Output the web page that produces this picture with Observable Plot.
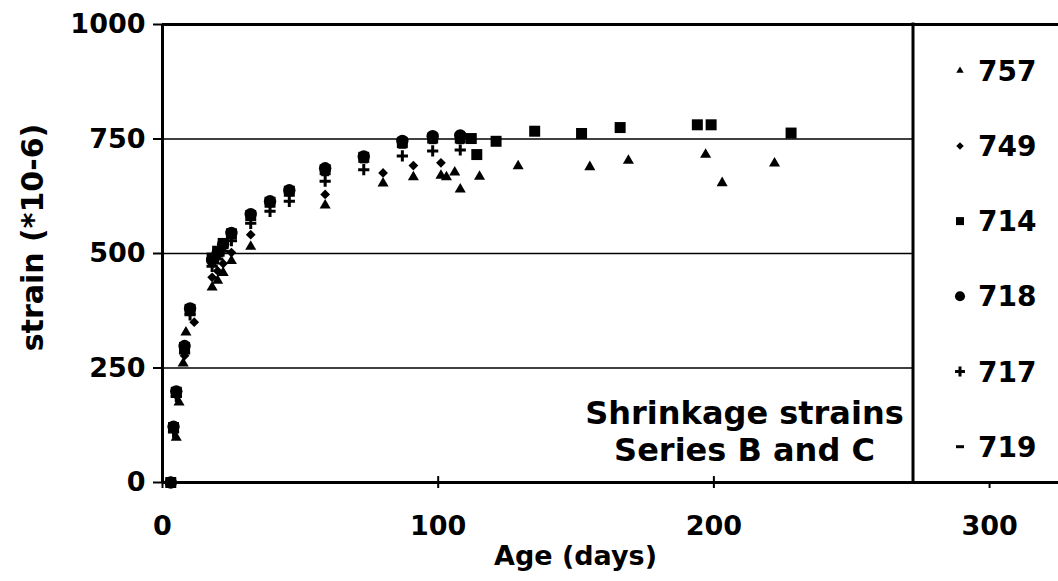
<!DOCTYPE html>
<html>
<head>
<meta charset="utf-8">
<script src="https://cdn.jsdelivr.net/npm/d3@7"></script>
<script src="https://cdn.jsdelivr.net/npm/@observablehq/plot@0.6"></script>
<style>
  body { margin: 0; background: #fff; }
  #chart svg { display: block; }
</style>
</head>
<body>
<div id="chart"></div>
<script>
// ---- Data ----
const seriesNames = ["757", "749", "714", "718", "717", "719"];

const age757    = [3, 5, 6, 7.5, 8.5, 18, 20, 22, 25, 32, 59, 80, 91, 101, 103, 106, 108, 115, 129, 155, 169, 197, 203, 222];
const strain757 = [0, 98, 175, 260, 328, 426, 441, 458, 484, 515, 605, 653, 667, 670, 667, 677, 640, 668, 691, 689, 703, 716, 654, 697];

const age749    = [3, 4, 5, 8, 11.5, 18, 20, 22, 25, 32, 59, 80, 91, 101];
const strain749 = [0, 115, 190, 277, 350, 448, 462, 478, 502, 541, 629, 676, 692, 698];

const age714    = [3, 4, 5, 8, 10, 18, 20, 22, 25, 32, 39, 46, 59, 73, 87, 98, 108, 112, 114, 121, 135, 152, 166, 194, 199, 228];
const strain714 = [0, 120, 197, 295, 378, 490, 505, 522, 543, 583, 612, 636, 683, 710, 742, 752, 752, 751, 716, 745, 767, 762, 775, 781, 781, 763];

const age718    = [3, 4, 5, 8, 10, 18, 20, 22, 25, 32, 39, 46, 59, 73, 87, 98, 108];
const strain718 = [0, 122, 199, 298, 380, 486, 502, 520, 545, 586, 614, 638, 686, 712, 746, 756, 758];

const age717    = [3, 4, 5, 8, 10, 18, 20, 22, 25, 32, 39, 46, 59, 73, 87, 98, 108];
const strain717 = [0, 110, 188, 283, 366, 472, 488, 505, 528, 566, 592, 614, 658, 683, 713, 724, 726];

const age719    = [3, 4, 5, 8, 10, 18, 20, 22, 25, 32, 39, 46, 59, 73, 87, 98, 108];
const strain719 = [0, 116, 193, 290, 372, 480, 496, 513, 537, 576, 604, 628, 672, 700, 732, 742, 742];

const xTicks = [0, 100, 200, 300];
const yTicks = [0, 250, 500, 750, 1000];
const gridLevels = [250, 500, 750];
const xLabel = "Age (days)";
const yLabel = "strain (*10-6)";
const annotation = ["Shrinkage strains", "Series B and C"];

// ---- Build tables ----
const toRows = (ages, strains) => ages.map((a, i) => ({age: a, strain: strains[i]}));
const seriesData = {
  "757": toRows(age757, strain757),
  "749": toRows(age749, strain749),
  "714": toRows(age714, strain714),
  "718": toRows(age718, strain718),
  "717": toRows(age717, strain717),
  "719": toRows(age719, strain719)
};

// custom short horizontal dash symbol
const dashSymbol = {
  draw(ctx, size) {
    const w = Math.sqrt(size) * 0.5, h = 1.5;
    ctx.moveTo(-w, -h); ctx.lineTo(w, -h); ctx.lineTo(w, h); ctx.lineTo(-w, h); ctx.closePath();
  }
};

const seriesStyle = {
  "757": {symbol: "triangle", d3type: d3.symbolTriangle, r: 4.1, fill: "black", stroke: "none", strokeWidth: 0, legendSize: 24},
  "749": {symbol: "diamond2", d3type: d3.symbolDiamond2, r: 4.4, fill: "black", stroke: "none", strokeWidth: 0, legendSize: 36},
  "714": {symbol: "square", d3type: d3.symbolSquare, r: 6.2, fill: "black", stroke: "none", strokeWidth: 0, legendSize: 64},
  "718": {symbol: "circle", d3type: d3.symbolCircle, r: 6.2, fill: "black", stroke: "none", strokeWidth: 0, legendSize: 80},
  "717": {symbol: "plus", d3type: d3.symbolPlus, r: 3.7, fill: "none", stroke: "black", strokeWidth: 3, legendSize: 34},
  "719": {symbol: dashSymbol, d3type: dashSymbol, r: 4.5, fill: "black", stroke: "none", strokeWidth: 0, legendSize: 64}
};

const dotMarks = seriesNames.map(name => {
  const s = seriesStyle[name];
  return Plot.dot(seriesData[name], {
    x: "age", y: "strain", symbol: s.symbol, r: s.r,
    fill: s.fill, stroke: s.stroke, strokeWidth: s.strokeWidth
  });
});

const chart = Plot.plot({
  width: 1058,
  height: 581,
  marginLeft: 162,
  marginRight: 0,
  marginTop: 24,
  marginBottom: 99,
  style: {fontFamily: "'DejaVu Sans', sans-serif", fontSize: "27px", fontWeight: "bold", color: "black", background: "white"},
  x: {domain: [0, 325]},
  y: {domain: [0, 1000]},
  marks: [
    Plot.ruleY(gridLevels, {stroke: "black", strokeWidth: 1.3}),
    Plot.axisY({ticks: yTicks, tickSize: 9, tickPadding: 8, strokeWidth: 2, label: null, tickFormat: d => String(d)}),
    Plot.axisX({ticks: xTicks, tickSize: 6, tickPadding: 27, strokeWidth: 2, label: null, tickFormat: d => String(d)}),
    // inner half of the crossing x ticks
    Plot.ruleX(xTicks.slice(1, 3), {y1: 0, y2: 13, strokeWidth: 2, stroke: "black"}),
    Plot.ruleY([0], {stroke: "black", strokeWidth: 3}),
    Plot.ruleY([1000], {stroke: "black", strokeWidth: 3}),
    Plot.ruleX([0], {stroke: "black", strokeWidth: 3}),
    ...dotMarks,
    Plot.text([annotation.join("\n")], {
      text: d => d, frameAnchor: "bottom", dx: 134, dy: -52, lineAnchor: "middle",
      textAnchor: "middle", fontSize: 32, fontWeight: "bold", lineHeight: 1.16, fill: "black"
    }),
    Plot.text([xLabel], {
      text: d => d, frameAnchor: "bottom", dx: -35, dy: 74, lineAnchor: "middle",
      textAnchor: "middle", fontSize: 27, fontWeight: "bold", fill: "black"
    }),
    Plot.text([yLabel], {
      text: d => d, frameAnchor: "left", dx: -129, dy: -16, rotate: -90, lineAnchor: "middle",
      textAnchor: "middle", fontSize: 30, fontWeight: "bold", fill: "black"
    })
  ]
});

document.getElementById("chart").appendChild(chart);

// ---- Legend box (inside the plot area, at the right) ----
const svg = d3.select(chart);
const legendLeft = 913, legendTop = 24, legendBottom = 482;
const lg = svg.append("g").attr("class", "legend").attr("text-anchor", "start");
lg.append("rect")
  .attr("x", legendLeft).attr("y", legendTop + 2)
  .attr("width", 1058 - legendLeft).attr("height", legendBottom - legendTop - 4)
  .attr("fill", "white");
lg.append("line")
  .attr("x1", legendLeft).attr("x2", legendLeft)
  .attr("y1", legendTop - 1.5).attr("y2", legendBottom + 1.5)
  .attr("stroke", "black").attr("stroke-width", 3);

const firstRow = 70.7, rowStep = 75.2, symX = 960, labelX = 978;
seriesNames.forEach((name, i) => {
  const s = seriesStyle[name];
  const cy = firstRow + i * rowStep;
  lg.append("path")
    .attr("transform", `translate(${symX},${cy})`)
    .attr("d", d3.symbol(s.d3type, s.legendSize)())
    .attr("fill", s.fill).attr("stroke", s.stroke === "none" ? null : s.stroke)
    .attr("stroke-width", s.strokeWidth || null);
  lg.append("text")
    .attr("x", labelX).attr("y", cy).attr("dy", "0.36em")
    .attr("text-anchor", "start")
    .attr("font-size", 28).attr("font-weight", "bold")
    .attr("fill", "black")
    .text(name);
});
</script>
</body>
</html>
